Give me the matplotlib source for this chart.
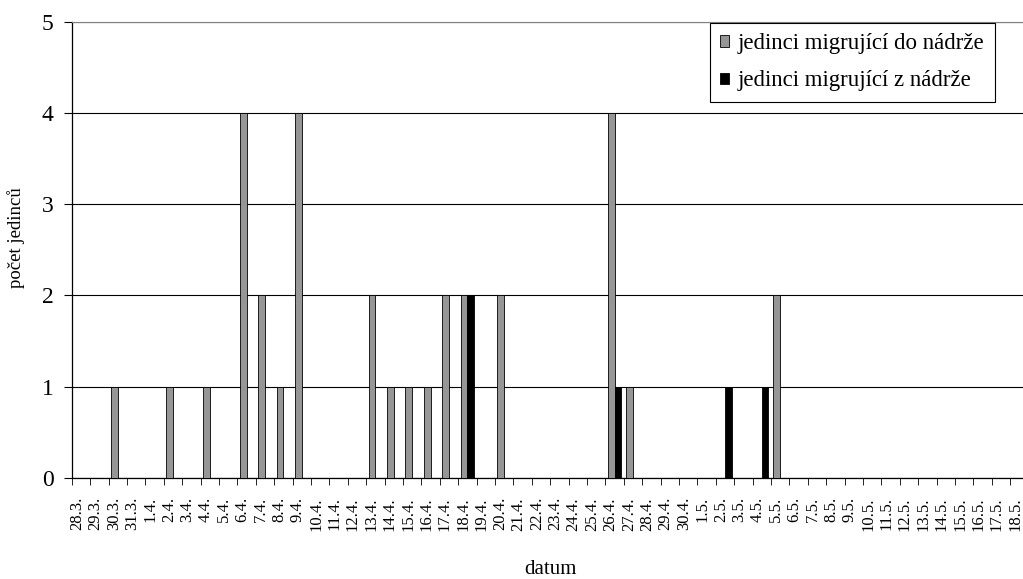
import numpy as np
import matplotlib
matplotlib.use('Agg')
import matplotlib.pyplot as plt
from matplotlib.transforms import ScaledTranslation

plt.rcParams['font.family'] = ['Liberation Serif', 'DejaVu Serif']

DATES = ['28.3.', '29.3.', '30.3.', '31.3.',
	'1.4.', '2.4.', '3.4.', '4.4.', '5.4.', '6.4.', '7.4.', '8.4.', '9.4.', '10.4.',
	'11.4.', '12.4.', '13.4.', '14.4.', '15.4.', '16.4.', '17.4.', '18.4.', '19.4.', '20.4.',
	'21.4.', '22.4.', '23.4.', '24.4.', '25.4.', '26.4.', '27.4.', '28.4.', '29.4.', '30.4.',
	'1.5.', '2.5.', '3.5.', '4.5.', '5.5.', '6.5.', '7.5.', '8.5.', '9.5.', '10.5.',
	'11.5.', '12.5.', '13.5.', '14.5.', '15.5.', '16.5.', '17.5.', '18.5.']

# jedinci migrujici do nadrze
IN_COUNTS = [0, 0, 1, 0,
	0, 1, 0, 1, 0, 4, 2, 1, 4, 0,
	0, 0, 2, 1, 1, 1, 2, 2, 0, 2,
	0, 0, 0, 0, 0, 4, 1, 0, 0, 0,
	0, 0, 0, 0, 2, 0, 0, 0, 0, 0,
	0, 0, 0, 0, 0, 0, 0, 0]

# jedinci migrujici z nadrze
OUT_COUNTS = [0, 0, 0, 0,
	0, 0, 0, 0, 0, 0, 0, 0, 0, 0,
	0, 0, 0, 0, 0, 0, 0, 2, 0, 0,
	0, 0, 0, 0, 0, 1, 0, 0, 0, 0,
	0, 1, 0, 1, 0, 0, 0, 0, 0, 0,
	0, 0, 0, 0, 0, 0, 0, 0]

LABELS = ['jedinci migrující do nádrže', 'jedinci migrující z nádrže']
Y_TICKS = [0, 1, 2, 3, 4, 5]


def main():
	fig = plt.figure(figsize=(10.23, 5.79), dpi=100)
	# plot area runs a bit past the right edge, like the original crop
	ax = fig.add_axes([0.0701, 0.175, 0.9353, 0.7867])

	x = np.arange(len(DATES))
	w = 0.36
	ax.bar(x - w / 2, IN_COUNTS, w, color='#969696', edgecolor='black',
		linewidth=0.6, label=LABELS[0], zorder=3)
	ax.bar(x + w / 2, OUT_COUNTS, w, color='black', edgecolor='black',
		linewidth=0.6, label=LABELS[1], zorder=3)

	ax.set_xlim(-0.5, len(DATES) - 0.5)
	ax.set_ylim(0, 5)

	#axes and grid
	ax.set_yticks(Y_TICKS)
	ax.tick_params(axis='y', length=6, direction='out', labelsize=17, pad=7)
	ax.yaxis.grid(True, color='black', linewidth=0.8)
	ax.set_axisbelow(True)

	ax.set_xticks(x)
	ax.set_xticklabels(DATES, rotation=90, fontsize=12)
	ax.tick_params(axis='x', which='major', length=0, pad=14)
	ax.set_xticks(np.arange(-0.5, len(DATES), 1), minor=True)
	ax.tick_params(axis='x', which='minor', length=5, direction='out', color='black')
	# labels sit a little left of the bar centre in the original
	shift = ScaledTranslation(-4 / 100, 0, fig.dpi_scale_trans)
	for lbl in ax.get_xticklabels():
		lbl.set_transform(lbl.get_transform() + shift)

	ax.spines['right'].set_visible(False)
	ax.spines['top'].set_color('#808080')
	ax.spines['left'].set_linewidth(0.9)
	ax.spines['bottom'].set_linewidth(0.9)

	fig.text(16.5 / 1023, 1 - 238 / 579, 'počet jedinců', rotation=90,
		ha='center', va='center', fontsize=13.5)
	fig.text(550 / 1023, 1 - 570 / 579, 'datum', ha='center', va='center', fontsize=15)

	leg = ax.legend(loc='upper right', bbox_to_anchor=(995 / 1023, 1 - 23 / 579),
		bbox_transform=fig.transFigure, borderaxespad=0, fontsize=16.5,
		fancybox=False, framealpha=1, edgecolor='black',
		handlelength=0.38, handleheight=0.38, handletextpad=0.4,
		labelspacing=0.7, borderpad=0.45)
	leg.get_frame().set_linewidth(0.8)

	fig.savefig('out.png', dpi=100)


if __name__ == "__main__":
	main()
